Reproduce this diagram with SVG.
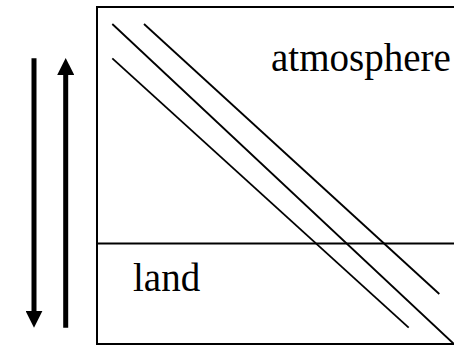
<svg xmlns="http://www.w3.org/2000/svg" width="454" height="345" viewBox="0 0 454 345">
<defs>
<style>
.frame{fill:none;stroke:#000;stroke-width:2}
.diag{fill:none;stroke:#000;stroke-width:1.8}
.arrow{fill:none;stroke:#000;stroke-width:5}
.label{font-family:"Liberation Serif","Times New Roman",serif;font-size:39px;fill:#000}
</style>
<marker id="head" markerUnits="userSpaceOnUse" viewBox="0 0 17 17" refX="0.5" refY="8.5" markerWidth="17" markerHeight="17" orient="auto">
<path d="M0,0 L17,8.5 L0,17 Z" fill="#000"/>
</marker>
</defs>
<rect x="0" y="0" width="454" height="345" fill="#fff"/>
<g id="atmosphere">
<rect class="frame" x="97" y="7" width="370" height="337"/>
<text class="label" x="271" y="71">atmosphere</text>
</g>
<g id="land">
<line class="frame" x1="97" y1="243.5" x2="454" y2="243.5"/>
<text class="label" x="133" y="291">land</text>
</g>
<g id="connectors">
<line class="diag" x1="112.3" y1="24" x2="454" y2="344"/>
<line class="diag" x1="112.3" y1="58.3" x2="408.7" y2="327.7"/>
<line class="diag" x1="144" y1="24" x2="439.3" y2="294"/>
<line class="arrow" x1="34" y1="58.3" x2="34" y2="311.3" marker-end="url(#head)"/>
<line class="arrow" x1="65.7" y1="327.7" x2="65.7" y2="74.5" marker-end="url(#head)"/>
</g>
</svg>
